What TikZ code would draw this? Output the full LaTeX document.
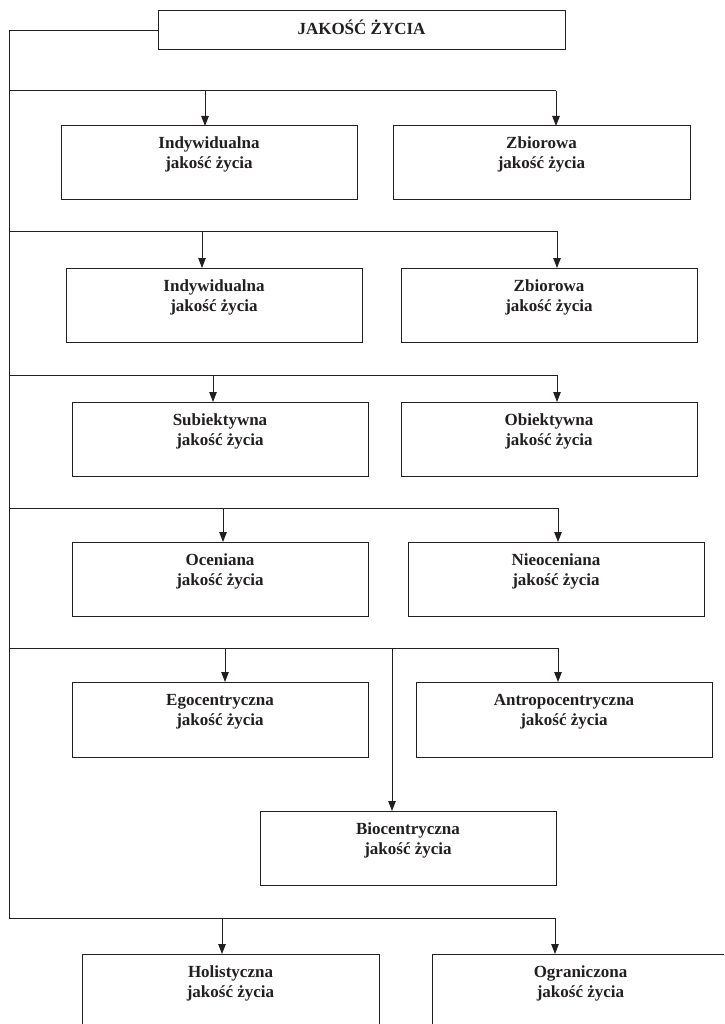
\documentclass[tikz,border=0pt]{standalone}
\usepackage{fontspec}
\setmainfont{Liberation Serif}
\usetikzlibrary{arrows.meta}
\definecolor{ink}{HTML}{231F20}
\newcommand\qlines[4]{\begin{minipage}[t][#2pt][t]{#1pt}\centering\rule{0pt}{23pt}#3\\#4\end{minipage}}
\newcommand\qline[3]{\begin{minipage}[t][#2pt][t]{#1pt}\centering\rule{0pt}{24pt}#3\end{minipage}}
\tikzset{
  box/.style={draw=ink, line width=1pt, rectangle, inner sep=0pt, outer sep=0pt, anchor=north west,
    text=ink, font=\fontsize{17}{20}\selectfont\bfseries},
  conn/.style={draw=ink, line width=1pt},
  arr/.style={conn, -{Triangle[length=10pt,width=7.5pt]}}
}
\begin{document}
\begin{tikzpicture}[x=1pt,y=-1pt]
\useasboundingbox (0,0) rectangle (724,1024);
\clip (0,0) rectangle (724,1024);
% boxes
\node[box] (title) at (158,11) {\qline{407}{39}{JAKOŚĆ ŻYCIA}};
\node[box] (ind1) at (61,126) {\qlines{296}{74}{Indywidualna}{jakość życia}};
\node[box] (zb1) at (393,126) {\qlines{297}{74}{Zbiorowa}{jakość życia}};
\node[box] (ind2) at (66,268) {\qlines{296}{74}{Indywidualna}{jakość życia}};
\node[box] (zb2) at (401,268) {\qlines{296}{74}{Zbiorowa}{jakość życia}};
\node[box] (sub) at (72,402) {\qlines{296}{74}{Subiektywna}{jakość życia}};
\node[box] (obi) at (401,402) {\qlines{296}{74}{Obiektywna}{jakość życia}};
\node[box] (oce) at (72,542) {\qlines{296}{74}{Oceniana}{jakość życia}};
\node[box] (nie) at (408,542) {\qlines{296}{74}{Nieoceniana}{jakość życia}};
\node[box] (ego) at (72,682) {\qlines{296}{75}{Egocentryczna}{jakość życia}};
\node[box] (ant) at (416,682) {\qlines{296}{75}{Antropocentryczna}{jakość życia}};
\node[box] (bio) at (260,811) {\qlines{296}{74}{Biocentryczna}{jakość życia}};
\node[box] (hol) at (82,954) {\qlines{297}{74}{Holistyczna}{jakość życia}};
\node[box] (ogr) at (432,954) {\qlines{297}{74}{Ograniczona}{jakość życia}};
% spine
\coordinate (s0) at (9,30.5);
\coordinate (r1) at (9,91);
\coordinate (r2) at (9,231.5);
\coordinate (r3) at (9,375);
\coordinate (r4) at (9,508);
\coordinate (r5) at (9,648);
\coordinate (r6) at (9,918);
\draw[conn] (title.west) -- (s0) -- (r6);
% junctions
\coordinate (a1) at (205,91);   \coordinate (b1) at (556,91);
\coordinate (a2) at (202,231.5);\coordinate (b2) at (557,231.5);
\coordinate (a3) at (213,375);  \coordinate (b3) at (557,375);
\coordinate (a4) at (223,508);  \coordinate (b4) at (558,508);
\coordinate (a5) at (225,648);  \coordinate (b5) at (558,648); \coordinate (c5) at (392,648);
\coordinate (a6) at (222,918);  \coordinate (b6) at (555,918);
\draw[conn] (r1) -- (b1);
\draw[conn] (r2) -- (b2);
\draw[conn] (r3) -- (b3);
\draw[conn] (r4) -- (b4);
\draw[conn] (r5) -- (b5);
\draw[conn] (r6) -- (b6);
\draw[arr] (a1) -- (a1 |- ind1.north);
\draw[arr] (b1) -- (b1 |- zb1.north);
\draw[arr] (a2) -- (a2 |- ind2.north);
\draw[arr] (b2) -- (b2 |- zb2.north);
\draw[arr] (a3) -- (a3 |- sub.north);
\draw[arr] (b3) -- (b3 |- obi.north);
\draw[arr] (a4) -- (a4 |- oce.north);
\draw[arr] (b4) -- (b4 |- nie.north);
\draw[arr] (a5) -- (a5 |- ego.north);
\draw[arr] (b5) -- (b5 |- ant.north);
\draw[arr] (c5) -- (c5 |- bio.north);
\draw[arr] (a6) -- (a6 |- hol.north);
\draw[arr] (b6) -- (b6 |- ogr.north);
\end{tikzpicture}
\end{document}
